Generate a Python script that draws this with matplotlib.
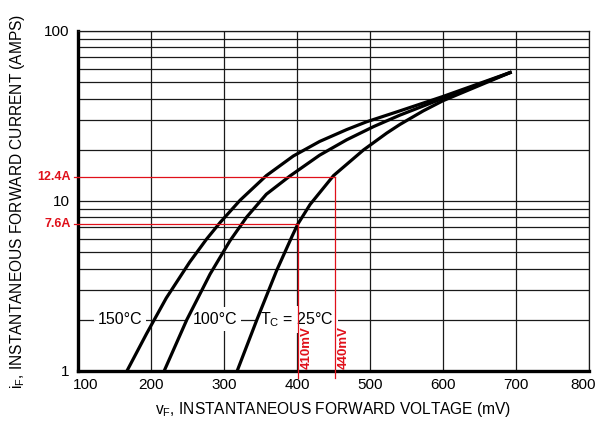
import numpy as np
import matplotlib
matplotlib.use("Agg")
from matplotlib import pyplot as plt
from matplotlib.transforms import ScaledTranslation

plt.rcParams['font.family'] = ['Liberation Sans', 'DejaVu Sans']
plt.rcParams['mathtext.default'] = 'regular'

# forward voltage (mV) / forward current (A)
vf_150 = [167, 194, 221, 253, 276, 295, 322, 358, 395, 431, 468, 495, 541, 600, 694]
if_150 = [1.0, 1.66, 2.69, 4.37, 5.96, 7.50, 10.1, 14.1, 18.4, 22.4, 26.3, 29.2, 33.9, 41.2, 57.4]

vf_100 = [218, 249, 281, 308, 331, 358, 390, 431, 468, 505, 541, 600, 694]
if_100 = [1.0, 2.0, 3.72, 5.82, 8.04, 10.96, 14.0, 18.6, 22.9, 27.4, 32.0, 40.2, 57.4]

vf_25 = [318, 345, 372, 393, 401, 418, 450, 491, 523, 541, 573, 600, 694]
if_25 = [1.0, 2.0, 3.89, 6.17, 7.3, 9.55, 14.1, 19.95, 25.1, 28.2, 33.9, 38.9, 57.4]

curve_labels = ['150°C', '100°C', r'T$_C$ = 25°C']
label_x = [127, 257, 349]
label_y = [2.02, 2.02, 2.0]

# red marker lines (drawn where they sit on the scan) and their labels
mark_v = [401, 452]
mark_i = [7.3, 13.9]
mark_v_txt = ['410mV', '440mV']
mark_i_txt = ['7.6A', '12.4A']

xticks = [100, 200, 300, 400, 500, 600, 700, 800]
yticks = [1, 10, 100]

fig = plt.figure(figsize=(5.97, 4.21), dpi=100)
ax = fig.add_axes([78/597, 50/421, 511/597, 340/421])

ax.set_xlim(100, 800)
ax.set_yscale('log')
ax.set_ylim(1, 100)

grid_c = '#1a1a1a'
ax.set_xticks(xticks)
ax.set_xticklabels([str(v) for v in xticks])
ax.set_yticks(yticks)
ax.set_yticklabels([str(v) for v in yticks])
ax.set_yticks([m * d for d in (1, 10) for m in range(2, 10)], minor=True)
ax.tick_params(which='both', length=0)
ax.tick_params(axis='x', labelsize=11, pad=5)
ax.tick_params(axis='y', labelsize=11, pad=6)
ax.set_yticklabels([], minor=True)
ax.grid(True, which='both', color=grid_c, lw=0.9)
ax.set_axisbelow(True)

for s in ['top', 'right']:
    ax.spines[s].set_linewidth(0.9)
    ax.spines[s].set_color(grid_c)
for s in ['left', 'bottom']:
    ax.spines[s].set_linewidth(2.4)
    ax.spines[s].set_color('black')

# nudge the end x labels like the original
xl = ax.get_xticklabels()
xl[0].set_transform(xl[0].get_transform() + ScaledTranslation(0.08, 0, fig.dpi_scale_trans))
xl[-1].set_transform(xl[-1].get_transform() + ScaledTranslation(-0.06, 0, fig.dpi_scale_trans))

for vf, i_f in [(vf_150, if_150), (vf_100, if_100), (vf_25, if_25)]:
    ax.plot(vf, i_f, color='black', lw=2.3, zorder=4, solid_capstyle='butt',
            solid_joinstyle='round')

for t, x, y in zip(curve_labels, label_x, label_y):
    ax.text(x, y, t, fontsize=11.5, ha='left', va='center', zorder=3,
            bbox=dict(facecolor='white', edgecolor='none', pad=3))

red = '#e0101a'
for v, i, vt, it in zip(mark_v, mark_i, mark_v_txt, mark_i_txt):
    ax.plot([94.5, v], [i, i], color=red, lw=0.9, zorder=5, clip_on=False)
    ax.plot([v, v], [0.91, i], color=red, lw=0.9, zorder=5, clip_on=False)
    ax.text(v + 12, 1.37, vt, color=red, fontsize=9.5, fontweight='bold',
            rotation=90, ha='center', va='center', zorder=6)
    ax.text(90, i, it, color=red, fontsize=9, fontweight='bold',
            ha='right', va='center', zorder=6)

ax.set_xlabel(r'$\mathregular{v_F}$, INSTANTANEOUS FORWARD VOLTAGE (mV)', fontsize=11.2, labelpad=6)
ax.set_ylabel(r'$\mathregular{i_F}$, INSTANTANEOUS FORWARD CURRENT (AMPS)', fontsize=11.2, labelpad=12)

fig.savefig('out.png', dpi=100)
